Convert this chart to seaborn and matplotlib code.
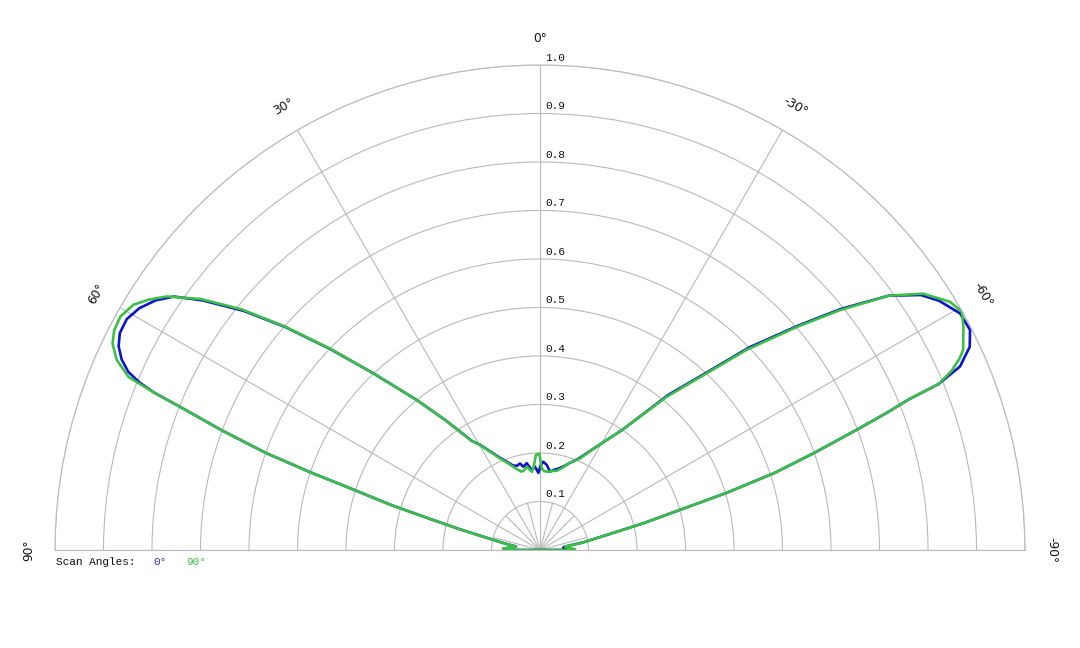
import numpy as np
import pandas as pd
import matplotlib
matplotlib.use("Agg")
import matplotlib.pyplot as plt
import matplotlib.transforms as mtransforms
import seaborn as sns

# ---------------- data (angles in degrees, positive = left) ----------------
theta_0 = [-90, -90, -88, -85, -82.4, -80, -77.3, -75.5, -74, -73, -71.8, -70.5, -69.2,
           -68.4, -67.8, -67.4, -66.4, -64.7, -62.9, -60.6, -58, -56.2, -53.9, -51.3,
           -49, -45.9, -43.3, -39.6, -34.4, -28.7, -23, -19, -16, -12.7, -10, -7.3,
           -4.5, -2.2, -0.5, 1.2, 3.4, 6, 8.7, 11.3, 13, 15.5, 17.7, 20.5, 23.6, 29.7,
           32, 36, 39.4, 43.3, 46.2, 48.8, 51.1, 53.5, 55.3, 57, 58.9, 60.8, 62.7, 64.2,
           65.5, 66.6, 67.3, 67.8, 68.3, 69.4, 70.5, 71.3, 72, 73.2, 74.3, 75.5, 76.8, 79,
           81.9, 84, 87.4, 90, 90]
r_0 = [0.0, 0.065, 0.06, 0.048, 0.05, 0.09, 0.141, 0.22, 0.30, 0.40, 0.51, 0.60, 0.70,
       0.77, 0.82, 0.89, 0.945, 0.98, 0.996, 0.994, 0.97, 0.945, 0.89, 0.795,
       0.705, 0.60, 0.505, 0.415, 0.30, 0.243, 0.205, 0.19, 0.18, 0.172, 0.168, 0.163,
       0.176, 0.182, 0.175, 0.159, 0.172, 0.166, 0.181, 0.175, 0.183, 0.18, 0.183, 0.194, 0.208, 0.25,
       0.265, 0.33, 0.40, 0.50, 0.598, 0.698, 0.785, 0.865, 0.918, 0.945, 0.965, 0.976, 0.975, 0.965,
       0.948, 0.925, 0.895, 0.86, 0.80, 0.70, 0.60, 0.50, 0.41, 0.32, 0.23, 0.17, 0.12, 0.08,
       0.05, 0.055, 0.072, 0.072, 0.0]

theta_90 = [-90, -90, -88.5, -86, -82.5, -80, -77.3, -75.5, -74, -73, -71.8, -70.5, -69.2,
            -68.4, -67.8, -67.4, -66.5, -65.5, -64.7, -62.2, -60.5, -58.8, -56.2, -53.9,
            -51.3, -49, -45.9, -43.3, -39.6, -34.4, -28.7, -23.6, -18.8, -15, -12, -9,
            -6, -3, -1.2, 0.4, 2.5, 4.5, 6, 7.5, 9, 11, 13.2, 15.5, 17.7, 20.5, 23.6,
            29.7, 32, 36, 39.4, 43.3, 46.2, 48.8, 51.1, 53.5, 55.8, 57.4, 58.9, 60.9, 62.7,
            64.2, 65.8, 67.2, 67.8, 68.3, 69.4, 70.5, 71.3, 72, 73.2, 74.3, 75.5, 76.8,
            79, 81.9, 84, 87.4, 90, 90]
r_90 = [0.0, 0.07, 0.072, 0.06, 0.052, 0.09, 0.141, 0.22, 0.30, 0.40, 0.51, 0.60, 0.70,
        0.77, 0.82, 0.89, 0.925, 0.95, 0.965, 0.987, 0.999, 0.988, 0.95, 0.89,
        0.79, 0.70, 0.593, 0.50, 0.41, 0.30, 0.243, 0.206, 0.19, 0.175, 0.167, 0.165,
        0.162, 0.163, 0.168, 0.199, 0.196, 0.17, 0.162, 0.168, 0.174, 0.168, 0.166, 0.172, 0.18, 0.192, 0.206,
        0.249, 0.265, 0.33, 0.40, 0.50, 0.60, 0.70, 0.79, 0.87, 0.93, 0.958, 0.979, 0.990, 0.988,
        0.979, 0.957, 0.92, 0.86, 0.80, 0.70, 0.60, 0.50, 0.41, 0.32, 0.23, 0.17, 0.12,
        0.08, 0.05, 0.055, 0.076, 0.075, 0.0]

series_names = ["0°", "90°"]
series_colors = ["#0a14c8", "#3cbf46"]
radial_ticks = [0.1, 0.2, 0.3, 0.4, 0.5, 0.6, 0.7, 0.8, 0.9, 1.0]
angle_ticks = [0, 30, 60, 90, -30, -60, -90]
angle_labels = ["0°", "30°", "60°", "90°", "-30°", "-60°", "-90°"]
legend_title = "Scan Angles:"

# ---------------- build table ----------------
df = pd.concat([
    pd.DataFrame({"theta": np.deg2rad(theta_0), "r": r_0, "scan": series_names[0]}),
    pd.DataFrame({"theta": np.deg2rad(theta_90), "r": r_90, "scan": series_names[1]}),
], ignore_index=True)

sns.set_style("white")
plt.rcParams["font.family"] = ["DejaVu Sans"]

W, H = 1080, 648
cx, cy, R = 540, 550, 485  # centre and radius in pixels (from top)
fig = plt.figure(figsize=(W / 100, H / 100), dpi=100)
box_top = cy - R / 2 - R  # square box, wedge centred vertically inside
ax = fig.add_axes([(cx - R) / W, (H - (box_top + 2 * R)) / H, 2 * R / W, 2 * R / H],
                  projection="polar")
ax.set_theta_zero_location("N")
ax.set_theta_direction(1)
ax.set_thetamin(-90)
ax.set_thetamax(90)
ax.set_ylim(0, 1.0)

grid_col = "#b9b9b9"
ax.set_thetagrids([-90, -60, -30, 0, 30, 60, 90], labels=[""] * 7)
ax.set_rgrids(radial_ticks, labels=[""] * len(radial_ticks))
ax.grid(True, color=grid_col, lw=0.8)
for sp in ax.spines.values():
    sp.set_color(grid_col)
    sp.set_linewidth(0.8)
ax.tick_params(length=0)

# short inner spokes every 15 degrees
for a in [-75, -45, -15, 15, 45, 75]:
    ax.plot([np.deg2rad(a)] * 2, [0, 0.1], color=grid_col, lw=0.8, zorder=1)

sns.lineplot(data=df, x="theta", y="r", hue="scan",
             palette=dict(zip(series_names, series_colors)), hue_order=series_names,
             sort=False, estimator=None, lw=1.9, legend=False, ax=ax)
ax.set_xlabel("")
ax.set_ylabel("")

# radial labels
offs = mtransforms.offset_copy(ax.transData, fig=fig, x=4, y=1.5, units="points")
for rv in radial_ticks:
    ax.text(0, rv, f"{rv:.1f}", transform=offs, ha="left", va="bottom",
            fontsize=8, family="Liberation Mono", color="#111111")

# angle labels
for a, lab in zip(angle_ticks, angle_labels):
    ax.text(np.deg2rad(a), 1.055, lab, ha="center", va="center", rotation=a,
            rotation_mode="anchor", fontsize=8.8, color="#111111", clip_on=False)

# legend text
fig.text(56 / W, 1 - 562 / H, legend_title, ha="left", va="center",
         fontsize=8, family="Liberation Mono", color="#111111")
fig.text(153 / W, 1 - 562 / H, series_names[0], ha="left", va="center",
         fontsize=8, family="Liberation Mono", color="#3030c0")
fig.text(186 / W, 1 - 562 / H, series_names[1], ha="left", va="center",
         fontsize=8, family="Liberation Mono", color="#3cbf46")

fig.savefig("out.png", dpi=100, facecolor="white")
